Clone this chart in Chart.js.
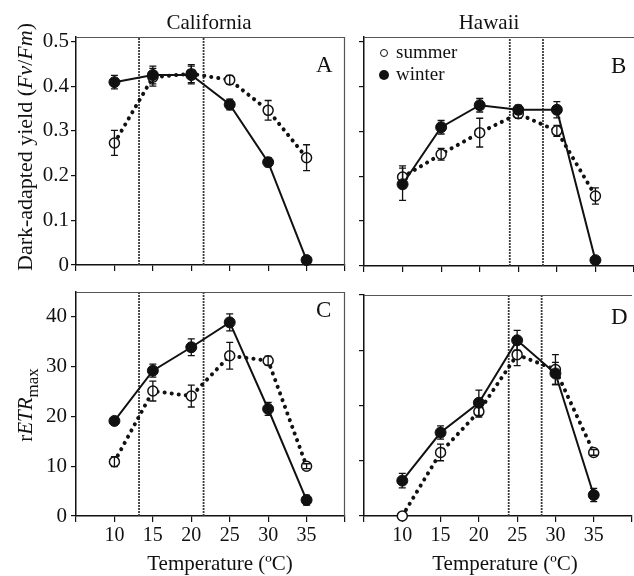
<!DOCTYPE html>
<html><head><meta charset="utf-8">
<script src="https://cdn.jsdelivr.net/npm/chart.js@4.4.1/dist/chart.umd.min.js"></script>
<style>
html,body{margin:0;padding:0;background:#fff;}
#wrap{position:relative;width:634px;height:576px;overflow:hidden;font-family:"Liberation Serif","Times New Roman",serif;color:#111;background:#fff;}
canvas{position:absolute;left:0;top:0;}
.t{position:absolute;white-space:nowrap;line-height:1;transform:translate(-50%,-50%);}
.l{position:absolute;white-space:nowrap;line-height:1;transform:translate(0,-50%);}
.rot{position:absolute;white-space:nowrap;line-height:1;transform:translate(-50%,-50%) rotate(-90deg);}
.dot{position:absolute;border-radius:50%;transform:translate(-50%,-50%);box-sizing:border-box;}
</style></head><body>
<div id="wrap">
<canvas id="cA" width="634" height="576"></canvas>
<canvas id="cB" width="634" height="576"></canvas>
<canvas id="cC" width="634" height="576"></canvas>
<canvas id="cD" width="634" height="576"></canvas>

<div class="t" style="left:209px;top:22px;font-size:21px;">California</div>
<div class="t" style="left:489px;top:22px;font-size:21px;">Hawaii</div>

<div class="l" style="left:316px;top:64px;font-size:23px;">A</div>
<div class="l" style="left:611px;top:65px;font-size:23px;">B</div>
<div class="l" style="left:316px;top:309px;font-size:23px;">C</div>
<div class="l" style="left:611px;top:316px;font-size:23px;">D</div>

<div class="dot" style="left:384px;top:53px;width:8px;height:8px;border:1.5px solid #111;background:#fff;"></div>
<div class="l" style="left:396px;top:51px;font-size:19px;">summer</div>
<div class="dot" style="left:384px;top:75px;width:10px;height:10px;background:#111;"></div>
<div class="l" style="left:396px;top:73px;font-size:19px;">winter</div>

<div class="rot" style="left:25px;top:147px;font-size:22px;">Dark-adapted yield (<i>Fv</i>/<i>Fm</i>)</div>
<div class="rot" style="left:28px;top:405px;font-size:21px;">r<i>ETR</i><sub style="font-size:17px;">max</sub></div>

<div class="t" style="left:220px;top:563px;font-size:21px;">Temperature (ºC)</div>
<div class="t" style="left:505px;top:563px;font-size:21px;">Temperature (ºC)</div>
</div>
<script>
// ---- data ----
const temps = [10, 15, 20, 25, 30, 35];
const xTickValues = [5, 10, 15, 20, 25, 30, 35, 40];
const xTickLabels = ['', '10', '15', '20', '25', '30', '35', ''];
const yieldTickValues = [0, 0.1, 0.2, 0.3, 0.4, 0.5];
const yieldTickLabels = ['0', '0.1', '0.2', '0.3', '0.4', '0.5'];
const etrTickValuesCA = [0, 10, 20, 30, 40];
const etrTickLabelsCA = ['0', '10', '20', '30', '40'];
const etrTickValuesHI = [0, 10, 20, 30, 40];

const caYieldSummer = [0.273, 0.420, 0.428, 0.414, 0.346, 0.240];
const caYieldSummerErr = [0.028, 0.020, 0.020, 0.010, 0.022, 0.029];
const caYieldWinter = [0.409, 0.425, 0.425, 0.359, 0.230, 0.011];
const caYieldWinterErr = [0.015, 0.020, 0.020, 0.012, 0.010, 0];

const hiYieldSummer = [0.198, 0.249, 0.297, 0.339, 0.301, 0.156];
const hiYieldSummerErr = [0.025, 0.013, 0.032, 0.010, 0.012, 0.018];
const hiYieldWinter = [0.182, 0.309, 0.358, 0.348, 0.348, 0.013];
const hiYieldWinterErr = [0.036, 0.015, 0.015, 0.010, 0.018, 0];

const caEtrSummer = [10.9, 25.1, 24.1, 32.2, 31.2, 10.0];
const caEtrSummerErr = [1.0, 2.0, 2.2, 2.7, 0.9, 0.5];
const caEtrWinter = [19.1, 29.2, 33.9, 38.9, 21.5, 3.2];
const caEtrWinterErr = [0.5, 1.3, 1.7, 1.7, 1.3, 1.0];

const hiEtrSummer = [0, 11.5, 18.9, 29.2, 26.5, 11.5];
const hiEtrSummerErr = [0, 1.5, 1.0, 2.0, 2.7, 0.5];
const hiEtrWinter = [6.4, 15.1, 20.5, 31.8, 25.8, 3.8];
const hiEtrWinterErr = [1.3, 1.2, 2.3, 1.8, 2.0, 1.2];

const caRefLines = [13.2, 21.6];
const hiRefLines = [23.9, 28.2];

// ---- rendering ----
const INK = '#111';
const FONT = "'Liberation Serif', 'Times New Roman', serif";

const errorBarPlugin = {
  id: 'errorBars',
  afterDatasetsDraw(chart) {
    const errs = chart.options.plugins.errorBars;
    if (!errs) return;
    const ctx = chart.ctx, xs = chart.scales.x, ys = chart.scales.y;
    ctx.save();
    ctx.strokeStyle = INK;
    ctx.lineWidth = 1.3;
    errs.forEach(set => {
      set.values.forEach((v, i) => {
        const e = set.err[i];
        if (!e) return;
        const px = xs.getPixelForValue(temps[i]);
        const y1 = ys.getPixelForValue(v + e), y2 = ys.getPixelForValue(v - e);
        ctx.beginPath();
        ctx.moveTo(px, y1); ctx.lineTo(px, y2);
        ctx.moveTo(px - 3.5, y1); ctx.lineTo(px + 3.5, y1);
        ctx.moveTo(px - 3.5, y2); ctx.lineTo(px + 3.5, y2);
        ctx.stroke();
      });
    });
    ctx.restore();
  }
};

const boxPlugin = {
  id: 'box',
  afterDraw(chart) {
    const a = chart.chartArea, ctx = chart.ctx;
    const rb = chart.options.plugins.box && chart.options.plugins.box.right;
    ctx.save();
    ctx.strokeStyle = '#555';
    ctx.lineWidth = 1.2;
    ctx.beginPath();
    ctx.moveTo(a.left, a.top + 0.5); ctx.lineTo(a.right, a.top + 0.5);
    if (rb) { ctx.moveTo(a.right - 0.5, a.top); ctx.lineTo(a.right - 0.5, a.bottom); }
    ctx.stroke();
    ctx.restore();
  }
};

function pts(vals) { return temps.map((t, i) => ({ x: t, y: vals[i] })); }

function makePanel(id, p) {
  const datasets = [
    { label: 'winter', data: pts(p.winter), borderColor: INK, borderWidth: 2,
      pointRadius: 5.5, pointBackgroundColor: INK, pointBorderColor: INK, pointBorderWidth: 1,
      tension: 0, clip: false },
    { label: 'summer', data: pts(p.summer), borderColor: INK, borderWidth: 4,
      borderDash: [0.1, 7], borderCapStyle: 'round',
      pointRadius: 5, pointBackgroundColor: '#fff', pointBorderColor: INK, pointBorderWidth: 1.5,
      tension: 0, clip: false }
  ];
  p.refLines.forEach(v => datasets.push({
    label: 'ref', data: [{ x: v, y: p.yMin }, { x: v, y: p.yMax }],
    borderColor: '#3a3a3a', borderWidth: 1.8, borderDash: [2, 1], pointRadius: 0, clip: false
  }));
  const a = p.area;
  return new Chart(document.getElementById(id), {
    type: 'line',
    data: { datasets },
    options: {
      responsive: false, animation: false, events: [],
      layout: { padding: { left: 0, top: a.t, right: 634 - a.r, bottom: 0 }, autoPadding: false },
      plugins: {
        legend: { display: false }, tooltip: { enabled: false }, title: { display: false },
        errorBars: [ { values: p.winter, err: p.winterErr }, { values: p.summer, err: p.summerErr } ],
        box: { right: p.rightBorder }
      },
      scales: {
        x: {
          type: 'linear', min: 5, max: 40,
          afterBuildTicks: s => { s.ticks = xTickValues.map(v => ({ value: v })); },
          afterFit: s => { s.height = 576 - a.b; },
          ticks: { display: p.xLabels, autoSkip: false, maxRotation: 0, padding: 2,
                   font: { family: FONT, size: 20 }, color: INK,
                   callback: (v, i) => xTickLabels[i] },
          grid: { display: true, drawOnChartArea: false, drawTicks: true, tickLength: 6, color: INK, lineWidth: 1.2 },
          border: { display: true, color: INK, width: 1.5 }
        },
        y: {
          type: 'linear', min: p.yMin, max: p.yMax,
          afterBuildTicks: s => { s.ticks = p.yTicks.map(v => ({ value: v })); },
          afterFit: s => { s.width = a.l; },
          ticks: { display: p.yLabels, autoSkip: false, padding: p.yPad,
                   font: { family: FONT, size: 21 }, color: INK,
                   callback: (v, i) => p.yTickLabels ? p.yTickLabels[i] : '' },
          grid: { display: true, drawOnChartArea: false, drawTicks: true, tickLength: 5, color: INK, lineWidth: 1.2 },
          border: { display: true, color: INK, width: 1.5 }
        }
      }
    },
    plugins: [errorBarPlugin, boxPlugin]
  });
}

makePanel('cA', { area: { l: 76, t: 37, r: 345, b: 265 }, yMin: 0, yMax: 0.51,
  yTicks: yieldTickValues, yTickLabels: yieldTickLabels, yLabels: true, xLabels: false, yPad: 2,
  summer: caYieldSummer, summerErr: caYieldSummerErr, winter: caYieldWinter, winterErr: caYieldWinterErr,
  refLines: caRefLines, rightBorder: true });
makePanel('cB', { area: { l: 364, t: 37, r: 634, b: 266 }, yMin: 0, yMax: 0.51,
  yTicks: yieldTickValues, yTickLabels: null, yLabels: false, xLabels: false, yPad: 2,
  summer: hiYieldSummer, summerErr: hiYieldSummerErr, winter: hiYieldWinter, winterErr: hiYieldWinterErr,
  refLines: hiRefLines, rightBorder: false });
makePanel('cC', { area: { l: 76, t: 292, r: 345, b: 516 }, yMin: 0, yMax: 45,
  yTicks: etrTickValuesCA, yTickLabels: etrTickLabelsCA, yLabels: true, xLabels: true, yPad: 4,
  summer: caEtrSummer, summerErr: caEtrSummerErr, winter: caEtrWinter, winterErr: caEtrWinterErr,
  refLines: caRefLines, rightBorder: true });
makePanel('cD', { area: { l: 364, t: 295, r: 634, b: 516 }, yMin: 0, yMax: 40,
  yTicks: etrTickValuesHI, yTickLabels: null, yLabels: false, xLabels: true, yPad: 2,
  summer: hiEtrSummer, summerErr: hiEtrSummerErr, winter: hiEtrWinter, winterErr: hiEtrWinterErr,
  refLines: hiRefLines, rightBorder: false });
</script>
</body></html>
